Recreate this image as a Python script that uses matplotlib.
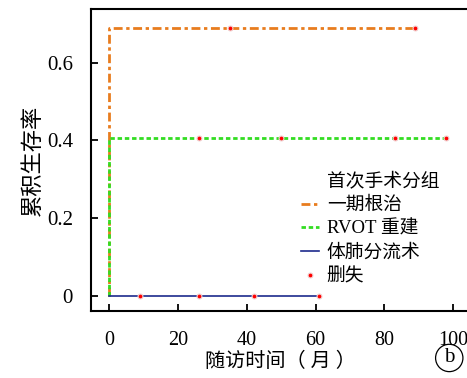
import matplotlib.pyplot as plt
from matplotlib.lines import Line2D

plt.rcParams['font.family'] = ['Liberation Serif', 'Noto Sans CJK SC', 'DejaVu Sans']

# survival curves (time in months, cumulative survival)
t_radical = [0, 0, 89]
s_radical = [0, 0.69, 0.69]
t_rvot = [0, 0, 98]
s_rvot = [0, 0.405, 0.405]
t_shunt = [0, 61]
s_shunt = [0, 0]

# censored points
cens_radical_t = [35, 89]
cens_rvot_t = [26, 50, 83, 98]
cens_shunt_t = [9, 26, 42, 61]

legend_title = '首次手术分组'
group_names = ['一期根治', 'RVOT 重建', '体肺分流术']
censor_name = '删失'
xticks = [0, 20, 40, 60, 80, 100]
yticks = [0, 0.2, 0.4, 0.6]
ytick_labels = ['0', '0.2', '0.4', '0.6']

orange_ls = (0, (3.2, 1.3, 1.2, 1.3))
green_ls = (0, (1.6, 1.0))

fig = plt.figure(figsize=(4.67, 3.78), dpi=100)
ax = fig.add_axes([0.195, 0.177, 0.81, 0.799])

ax.plot(t_radical, s_radical, color='#e87c1e', lw=2.0, ls=orange_ls)
ax.plot(t_rvot, s_rvot, color='#33dd22', lw=2.0, ls=green_ls)
ax.plot(t_shunt, s_shunt, color='#1c2a8c', lw=1.2)

cm = dict(ls='none', marker='o', ms=3.5, mfc='red', mec='#f0d0d0', mew=0.8)
ax.plot(cens_radical_t, [s_radical[-1]] * len(cens_radical_t), **cm)
ax.plot(cens_rvot_t, [s_rvot[-1]] * len(cens_rvot_t), **cm)
ax.plot(cens_shunt_t, [s_shunt[-1]] * len(cens_shunt_t), **cm)

ax.set_xlim(-5.3, 104.7)
ax.set_ylim(-0.04, 0.738)
ax.set_xticks(xticks)
ax.set_yticks(yticks)
ax.set_yticklabels(ytick_labels)
ax.tick_params(direction='in', length=5, width=1.3, labelsize=14.5, pad=14)
ax.tick_params(axis='y', labelsize=15, pad=13)
for sp in ax.spines.values():
    sp.set_linewidth(1.5)
ax.spines['right'].set_visible(False)

ax.set_xlabel('随访时间（ 月 ）', fontsize=14.5, labelpad=2)
ax.set_ylabel('累积生存率', fontsize=16, labelpad=2)

handles = [
    Line2D([], [], alpha=0),
    Line2D([], [], color='#e87c1e', lw=2.0, ls=orange_ls),
    Line2D([], [], color='#33dd22', lw=2.0, ls=green_ls),
    Line2D([], [], color='#1c2a8c', lw=1.2),
    Line2D([], [], **cm),
]
leg = ax.legend(handles, [legend_title] + group_names + [censor_name],
                loc='upper left', bbox_to_anchor=(0.529, 0.49), frameon=False,
                fontsize=13.5, handlelength=1.0,
                handletextpad=0.4, labelspacing=0.34, borderpad=0.0)

fig.text(0.962, 0.053, 'b', fontsize=15, ha='center', va='center',
         bbox=dict(boxstyle='circle,pad=0.2', fc='white', ec='black', lw=0.9))

fig.savefig('out.png', dpi=100)
